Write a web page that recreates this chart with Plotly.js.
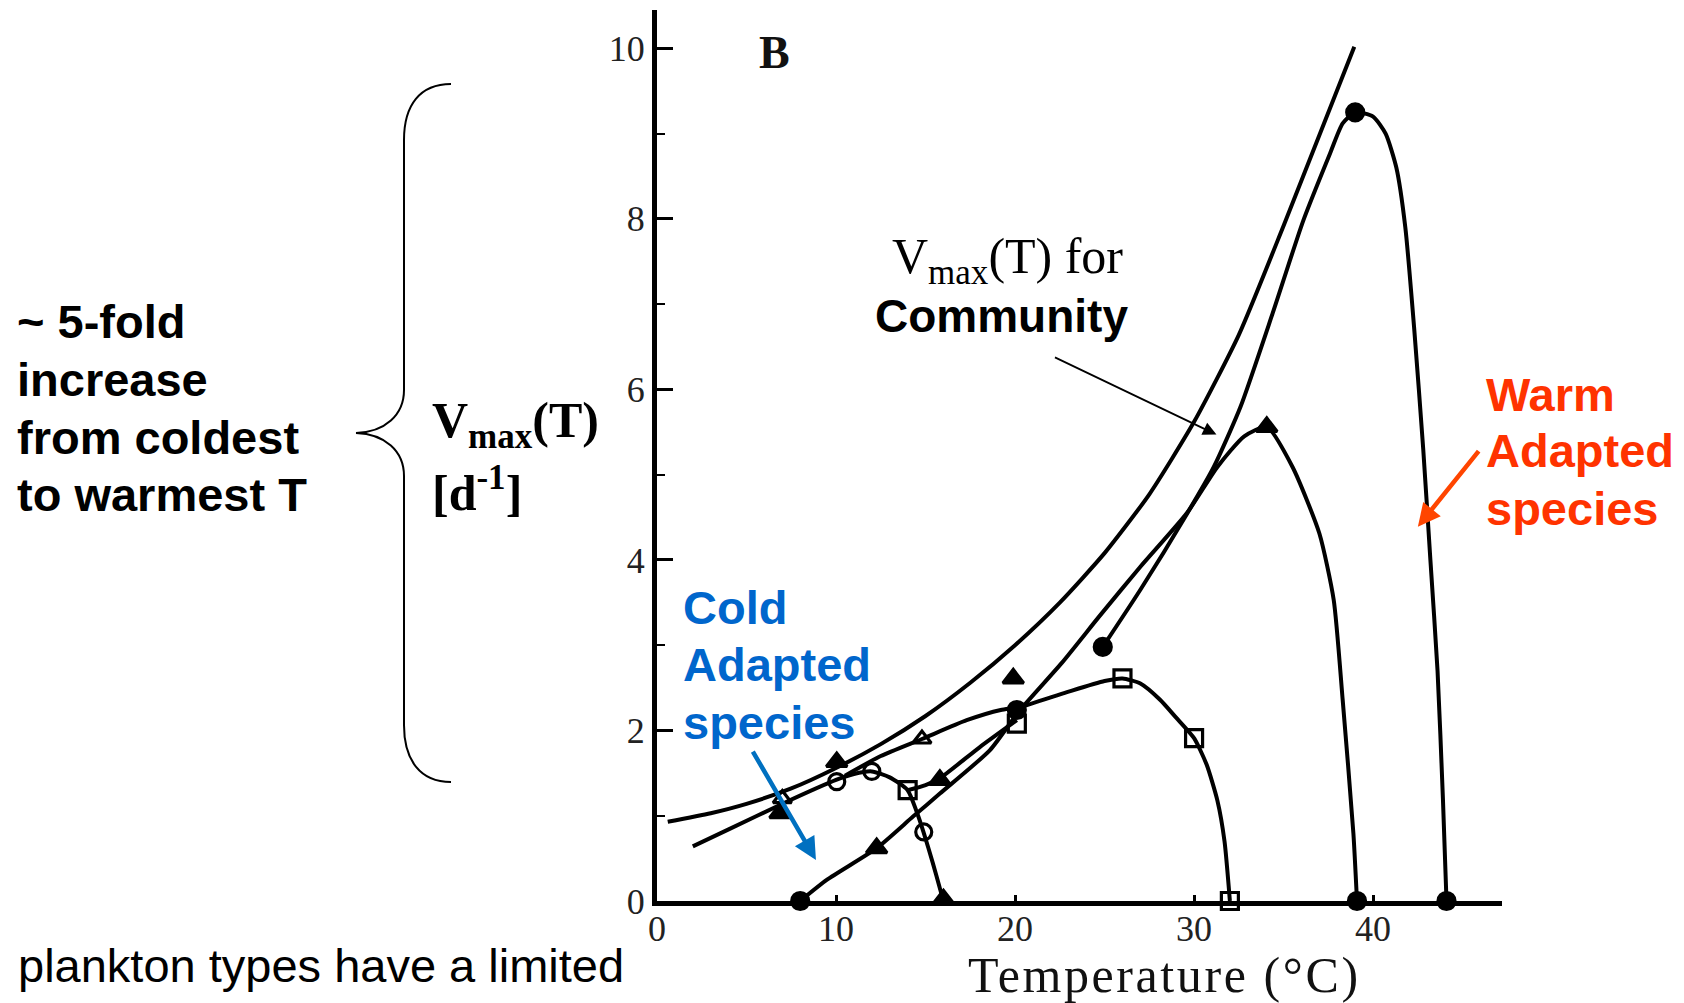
<!DOCTYPE html>
<html>
<head>
<meta charset="utf-8">
<script src="https://cdn.plot.ly/plotly-3.0.1.min.js"></script>
<style>
  html, body { margin: 0; padding: 0; background: #fff; }
  #chart { width: 1684px; height: 1003px; }
</style>
</head>
<body>
<div id="chart"></div>
<script>
// ---------------- data ----------------
// Community envelope Vmax(T)
const communityT = [0.6, 3, 5, 7.5, 10, 12.5, 15, 17.5, 20, 22.5, 25, 27.5, 30, 32.5, 35, 38.95];
const communityV = [0.93, 1.03, 1.14, 1.32, 1.56, 1.84, 2.17, 2.56, 3.0, 3.50, 4.08, 4.77, 5.62, 6.64, 7.92, 10.02];

// Cold adapted species (open circles)
const coldT = [2.0, 4, 7.1, 10, 11, 12, 13, 14, 14.5, 14.9, 15.4, 15.8, 16.0];
const coldV = [0.64, 0.84, 1.15, 1.42, 1.49, 1.52, 1.45, 1.30, 1.05, 0.80, 0.45, 0.15, 0.0];

// Intermediate species (open triangles / open squares)
const midT = [10.5, 12.5, 14.8, 17.3, 19.2, 20.2, 22.9, 25.0, 26.0, 27.0, 28.1, 29.0, 30.0, 30.7, 31.3, 31.7, 32.0];
const midV = [1.47, 1.70, 1.90, 2.12, 2.24, 2.27, 2.45, 2.58, 2.61, 2.55, 2.36, 2.15, 1.91, 1.60, 1.18, 0.70, 0.0];

// Short branch (open squares at 14 -> 20)
const branchT = [14.0, 15.0, 15.8, 18.0, 20.1];
const branchV = [1.30, 1.36, 1.44, 1.80, 2.12];

// Filled-triangle species (peak near 34 °C)
const tri34T = [8.0, 9.5, 12.27, 14.3, 15.8, 18.6, 20.2, 22.6, 24.75, 27.0, 29.6, 31.3, 32.8, 34.06, 35.5, 37.0, 37.8, 38.3, 38.9, 39.1];
const tri34V = [0.0, 0.25, 0.62, 0.99, 1.26, 1.77, 2.22, 2.79, 3.35, 3.92, 4.55, 5.09, 5.45, 5.56, 5.09, 4.31, 3.53, 2.36, 0.79, 0.0];

// Warm adapted species (filled circles, peak near 39 °C)
const warmT = [24.9, 27.0, 29.6, 31.1, 32.6, 34.4, 36.1, 37.6, 38.3, 39.0, 40.0, 40.7, 41.3, 41.8, 42.3, 42.8, 43.2, 43.6, 43.9, 44.1];
const warmV = [2.98, 3.65, 4.54, 5.09, 5.80, 6.90, 7.98, 8.77, 9.12, 9.25, 9.20, 9.00, 8.60, 7.90, 6.70, 5.30, 4.00, 2.70, 1.20, 0.0];

// Measured points (symbols)
const filledTriT = [6.87, 10.04, 12.27, 15.8, 19.9, 34.06, 16.0];
const filledTriV = [1.03, 1.63, 0.62, 1.42, 2.61, 5.56, 0.02];
const openTriT = [7.0, 14.8];
const openTriV = [1.20, 1.90];
const openCircT = [10.04, 12.0, 14.9];
const openCircV = [1.40, 1.52, 0.81];
const openSqT = [14.0, 20.1, 26.0, 30.0, 32.0];
const openSqV = [1.30, 2.08, 2.61, 1.91, 0.0];
const filledCircT = [8.0, 20.1, 24.9, 39.0, 39.1, 44.1];
const filledCircV = [0.0, 2.24, 2.98, 9.25, 0.0, 0.0];

// Axis ticks
const xTicks = [0, 10, 20, 30, 40];
const yTicks = [0, 2, 4, 6, 8, 10];

// Text
const leftLines = ['~ 5-fold', 'increase', 'from coldest', 'to warmest T'];
const coldLines = ['Cold', 'Adapted', 'species'];
const warmLines = ['Warm', 'Adapted', 'species'];

// ---------------- layout helpers ----------------
const W = 1684, H = 1003;
const M = { l: 657, r: 182, t: 10, b: 102 };
const PW = W - M.l - M.r, PH = H - M.t - M.b;
const pxX = x => (x - M.l) / PW;
const pxY = y => (H - M.b - y) / PH;

const lineStyle = { color: '#000', width: 4, shape: 'spline', smoothing: 0.6 };
function curve(x, y) {
  return { x, y, type: 'scatter', mode: 'lines', line: lineStyle, hoverinfo: 'skip', showlegend: false, cliponaxis: false };
}
function pts(x, y, symbol, size) {
  return { x, y, type: 'scatter', mode: 'markers', cliponaxis: false, showlegend: false,
    marker: { symbol, size: size, color: '#000', line: { color: '#000', width: 3.2 } } };
}

const data = [
  curve(communityT, communityV),
  curve(coldT, coldV),
  curve(midT, midV),
  curve(branchT, branchV),
  curve(tri34T, tri34V),
  curve(warmT, warmV),
  pts(filledTriT, filledTriV, 'triangle-up', 18),
  pts(openTriT, openTriV, 'triangle-up-open', 16),
  pts(openCircT, openCircV, 'circle-open', 16),
  pts(openSqT, openSqV, 'square-open', 17),
  pts(filledCircT, filledCircV, 'circle', 17)
];

const serif = 'Liberation Serif, Times New Roman, serif';
const sans = 'Liberation Sans, Arial, sans-serif';

function brace() {
  const P = (x, y) => pxX(x).toFixed(5) + ',' + pxY(y).toFixed(5);
  return 'M' + P(451, 84) +
    ' C' + P(420, 84) + ' ' + P(404, 105) + ' ' + P(404, 140) +
    ' L' + P(404, 390) +
    ' C' + P(404, 415) + ' ' + P(385, 432) + ' ' + P(356, 433) +
    ' C' + P(385, 434) + ' ' + P(404, 451) + ' ' + P(404, 476) +
    ' L' + P(404, 725) +
    ' C' + P(404, 760) + ' ' + P(420, 782) + ' ' + P(451, 782);
}

function block(lines, xpx, ypx0, step, size, color) {
  return lines.map((t, i) => ({
    xref: 'paper', yref: 'paper', x: pxX(xpx), y: pxY(ypx0 + i * step),
    xanchor: 'left', yanchor: 'middle', align: 'left', showarrow: false,
    text: '<b>' + t + '</b>', font: { family: sans, size: size, color: color }
  }));
}

const annotations = [
  { xref: 'paper', yref: 'paper', x: pxX(774), y: pxY(52), text: '<b>B</b>', showarrow: false,
    xanchor: 'center', yanchor: 'middle', font: { family: serif, size: 46, color: '#111' } },
  { xref: 'paper', yref: 'paper', x: pxX(1007), y: pxY(260), text: 'V<sub>max</sub>(T) for', showarrow: false,
    xanchor: 'center', yanchor: 'middle', font: { family: serif, size: 50, color: '#000' } },
  { xref: 'paper', yref: 'paper', x: pxX(1001), y: pxY(316), text: '<b>Community</b>', showarrow: false,
    xanchor: 'center', yanchor: 'middle', font: { family: sans, size: 46, color: '#000' } },
  { x: 31.25, y: 5.47, ax: -163, ay: -78, text: '', showarrow: true,
    arrowhead: 2, arrowsize: 1.5, arrowwidth: 1.8, arrowcolor: '#000' },
  { xref: 'paper', yref: 'paper', x: pxX(430), y: pxY(424), xanchor: 'left', yanchor: 'middle', align: 'left',
    text: '<b>V<sub>max</sub>(T)</b>', showarrow: false,
    font: { family: serif, size: 50, color: '#000' } },
  { xref: 'paper', yref: 'paper', x: pxX(430), y: pxY(489), xanchor: 'left', yanchor: 'middle', align: 'left',
    text: '<b>[d<sup>-1</sup>]</b>', showarrow: false,
    font: { family: serif, size: 50, color: '#000' } },
  { x: 8.88, y: 0.48, ax: -64, ay: -110, text: '', showarrow: true,
    arrowhead: 2, arrowsize: 1, arrowwidth: 4.5, arrowcolor: '#0070C0' },
  { x: 42.5, y: 4.39, ax: 62, ay: -77, text: '', showarrow: true,
    arrowhead: 2, arrowsize: 1, arrowwidth: 4.5, arrowcolor: '#FF4500' },
  { xref: 'paper', yref: 'paper', x: pxX(1164), y: pxY(975), xanchor: 'center', yanchor: 'middle',
    text: '<span style="letter-spacing:2.6px">Temperature (°C)</span>', showarrow: false,
    font: { family: serif, size: 50, color: '#111' } },
  { xref: 'paper', yref: 'paper', x: pxX(16), y: pxY(965), xanchor: 'left', yanchor: 'middle', align: 'left',
    text: 'plankton types have a limited', showarrow: false,
    font: { family: sans, size: 47, color: '#000' } }
].concat(
  block(leftLines, 15, 322, 57.5, 47, '#000'),
  block(coldLines, 681, 607, 57.5, 47, '#0066CC'),
  block(warmLines, 1484, 394, 57, 47, '#FF3300')
);

const layout = {
  width: W, height: H,
  margin: M,
  paper_bgcolor: '#fff', plot_bgcolor: '#fff',
  showlegend: false,
  xaxis: {
    range: [0, 47.2], tickvals: xTicks, ticktext: xTicks.map(String),
    showgrid: false, zeroline: false,
    showline: true, linecolor: '#000', linewidth: 5,
    ticks: 'inside', ticklen: 6, tickwidth: 3, tickcolor: '#000',
    ticklabelstandoff: -8,
    tickfont: { family: serif, size: 36, color: '#222' }
  },
  yaxis: {
    range: [0, 10.45], tickvals: yTicks, ticktext: yTicks.map(String),
    showgrid: false, zeroline: false,
    showline: true, linecolor: '#000', linewidth: 5,
    ticks: 'inside', ticklen: 16, tickwidth: 3, tickcolor: '#000',
    minor: { dtick: 1, ticks: 'inside', ticklen: 8, tickwidth: 2, tickcolor: '#000', showgrid: false },
    tickfont: { family: serif, size: 36, color: '#222' }
  },
  shapes: [
    { type: 'path', xref: 'paper', yref: 'paper', path: brace(), line: { color: '#000', width: 2 } }
  ],
  annotations: annotations
};

Plotly.newPlot('chart', data, layout, { staticPlot: true, displayModeBar: false });
</script>
</body>
</html>
